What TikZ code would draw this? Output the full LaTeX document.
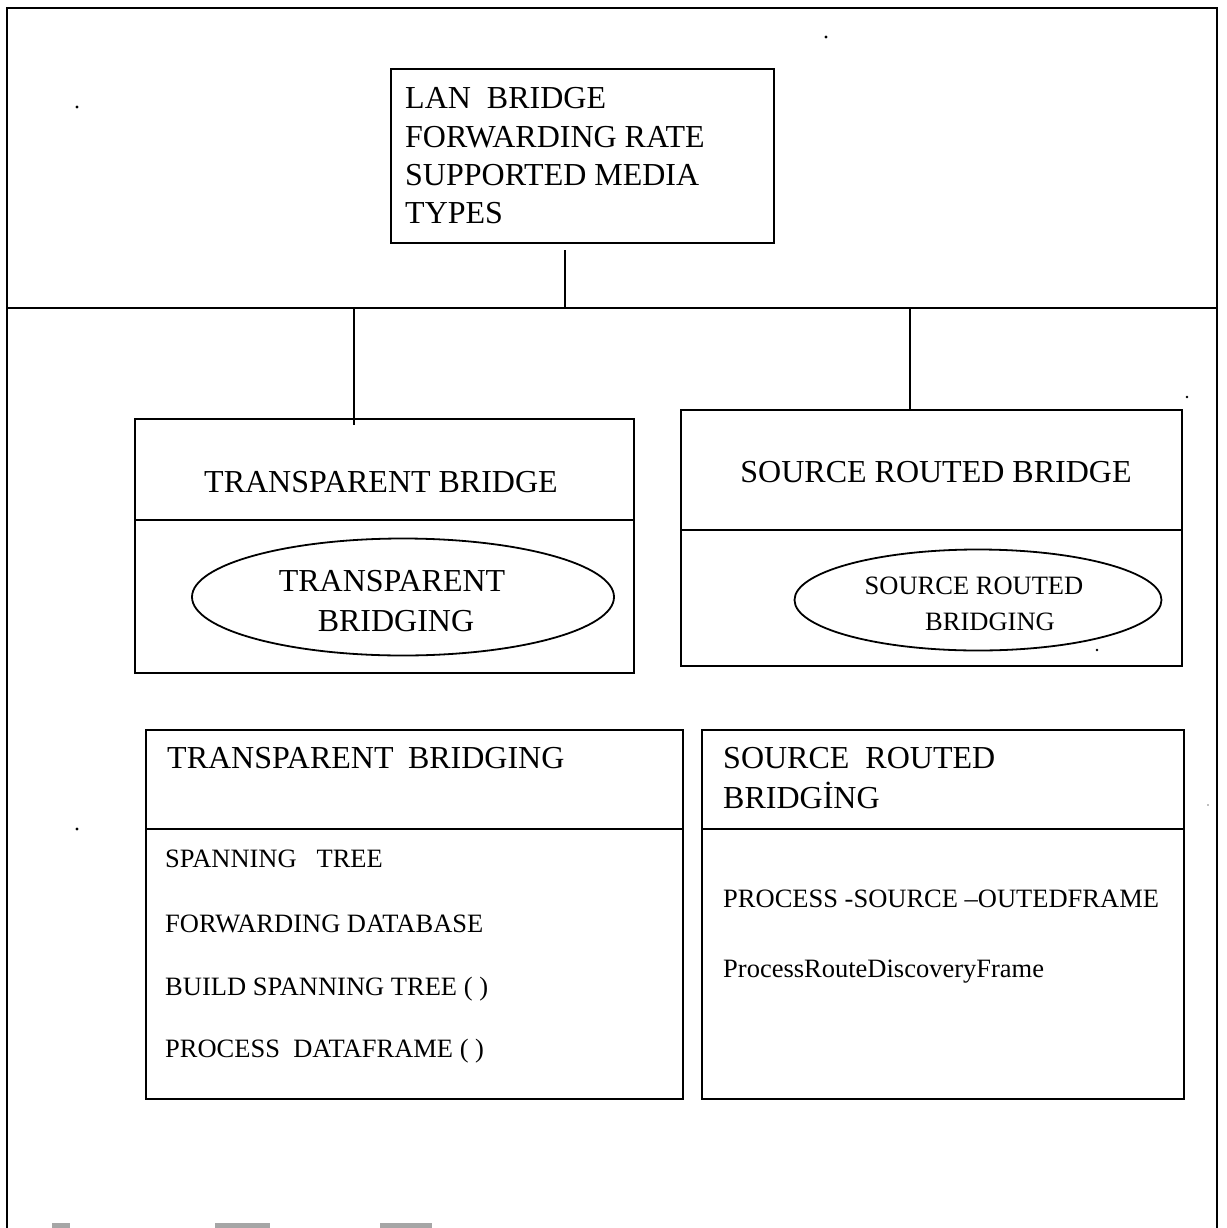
\documentclass[tikz,border=0pt]{standalone}
\usepackage{fontspec}
\setmainfont{Liberation Serif}
\usetikzlibrary{shapes.geometric}
\begin{document}
\begin{tikzpicture}[x=1pt,y=-1pt,
  frame/.style={line width=1.8pt},
  box/.style={draw,line width=1.8pt,inner sep=0pt,anchor=north west},
  link/.style={line width=1.8pt},
  oval/.style={draw,ellipse,line width=1.8pt,inner sep=0pt},
  big/.style={inner sep=0pt,font=\fontsize{32}{38}\selectfont},
  small/.style={inner sep=0pt,font=\fontsize{26.5}{32}\selectfont},
  speck/.style={fill=black,draw=none}]
\useasboundingbox (0,0) rectangle (1226,1228);

% outer frame, open at the bottom, and the bus line
\draw[frame] (7,1228) -- (7,8) -- (1217,8) -- (1217,1228);
\coordinate (busL) at (7,308);
\coordinate (busR) at (1217,308);
\draw[frame] (busL) -- (busR);

% LAN bridge class
\node[box,minimum width=383pt,minimum height=174pt] (lan) at (390,68) {};
\node[big,anchor=base west] (lan1) at (405,109) {LAN\hspace{0.5em}BRIDGE};
\node[big,anchor=base west] (lan2) at (405,147) {FORWARDING RATE};
\node[big,anchor=base west] (lan3) at (405,185) {SUPPORTED MEDIA};
\node[big,anchor=base west] (lan4) at (405,223) {TYPES};
\coordinate (lanfoot) at (565,250);
\draw[link] (lanfoot) -- (lanfoot |- busL);

% transparent bridge class
\node[box,minimum width=499pt,minimum height=254pt] (tbridge) at (134,418) {};
\draw[link] ([yshift=-102pt]tbridge.north west) -- ([yshift=-102pt]tbridge.north east);
\node[big,anchor=base] (tbtitle) at (381,492) {TRANSPARENT BRIDGE};
\node[oval,minimum width=422pt,minimum height=117pt] (tbing) at (403,597) {};
\node[big,anchor=base] (tbing1) at (392,591) {TRANSPARENT};
\node[big,anchor=base] (tbing2) at (396,631) {BRIDGING};
\coordinate (tbtap) at (354,308);
\draw[link] (tbtap) -- ([yshift=-7pt]tbtap |- tbridge.north);

% source routed bridge class
\node[box,minimum width=501pt,minimum height=256pt] (sbridge) at (680,409) {};
\draw[link] ([yshift=-121pt]sbridge.north west) -- ([yshift=-121pt]sbridge.north east);
\node[big,anchor=base] (sbtitle) at (936,482) {SOURCE ROUTED BRIDGE};
\node[oval,minimum width=367pt,minimum height=101pt] (sbing) at (978,600) {};
\node[small,anchor=base] (sbing1) at (974,594) {SOURCE ROUTED};
\node[small,anchor=base] (sbing2) at (990,630) {BRIDGING};
\coordinate (sbtap) at (910,308);
\draw[link] (sbtap) -- (sbtap |- sbridge.north);

% transparent bridging class
\node[box,minimum width=537pt,minimum height=369pt] (tbclass) at (145,729) {};
\draw[link] ([yshift=-100pt]tbclass.north west) -- ([yshift=-100pt]tbclass.north east);
\node[big,anchor=base west] (tbctitle) at (167,768) {TRANSPARENT\hspace{0.45em}BRIDGING};
\node[small,anchor=base west] (tbc1) at (165,867) {SPANNING\hspace{0.75em}TREE};
\node[small,anchor=base west] (tbc2) at (165,932) {FORWARDING DATABASE};
\node[small,anchor=base west] (tbc3) at (165,995) {BUILD SPANNING TREE ( )};
\node[small,anchor=base west] (tbc4) at (165,1057) {PROCESS\hspace{0.5em}DATAFRAME ( )};

% source routed bridging class
\node[box,minimum width=482pt,minimum height=369pt] (sbclass) at (701,729) {};
\draw[link] ([yshift=-100pt]sbclass.north west) -- ([yshift=-100pt]sbclass.north east);
\node[big,anchor=base west] (sbctitle1) at (723,768) {SOURCE\hspace{0.5em}ROUTED};
\node[big,anchor=base west] (sbctitle2) at (723,808) {BRIDGİNG};
\node[small,anchor=base west] (sbc1) at (723,907) {PROCESS -SOURCE –OUTEDFRAME};
\node[small,anchor=base west] (sbc2) at (723,977) {ProcessRouteDiscoveryFrame};

% specks
\fill[speck] (77,107) circle (1.6);
\fill[speck] (826,37) circle (1.6);
\fill[speck] (1187,397) circle (1.4);
\fill[speck] (77,829) circle (1.6);
\fill[speck] (1097,650) circle (1.4);
\fill[gray] (1208,805) circle (0.9);
\fill[gray!70] (52,1223) rectangle (70,1228);
\fill[gray!70] (215,1223) rectangle (270,1228);
\fill[gray!70] (380,1223) rectangle (432,1228);
\end{tikzpicture}
\end{document}
